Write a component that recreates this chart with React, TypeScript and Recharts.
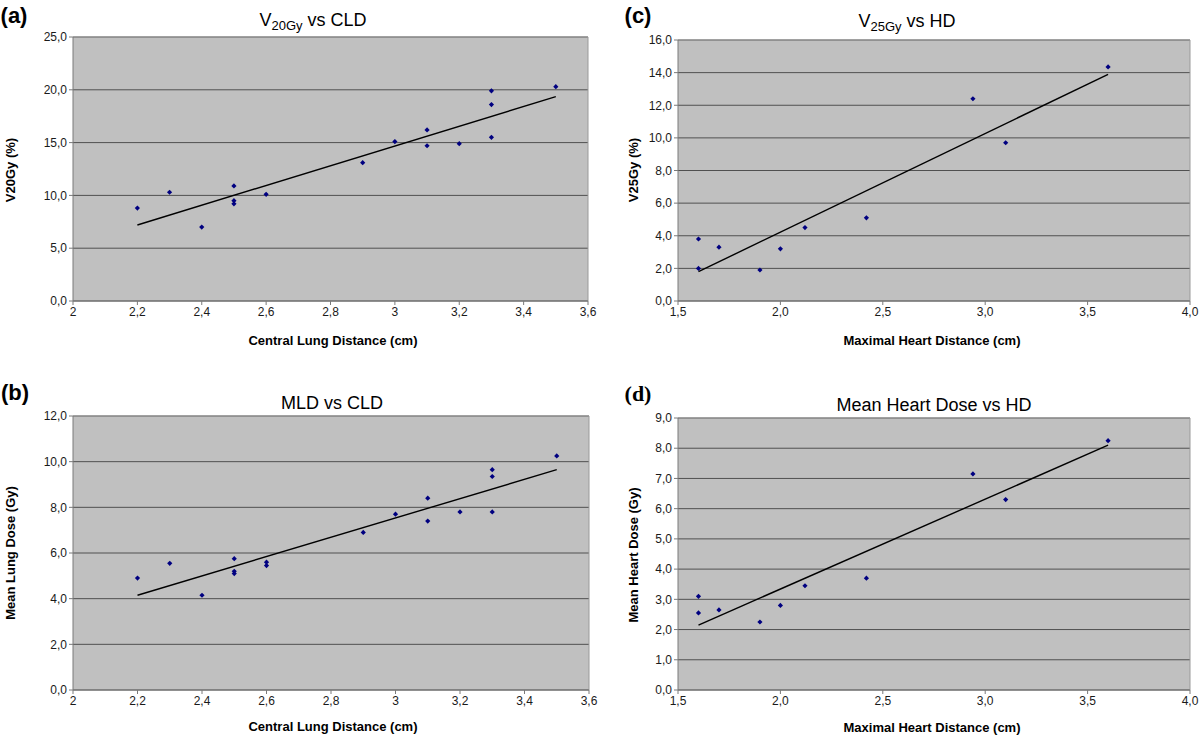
import React from "react";
import {
  ScatterChart,
  Scatter,
  XAxis,
  YAxis,
  CartesianGrid,
  ReferenceLine,
} from "recharts";

// ---------- data ----------
const cldA = [2.2, 2.3, 2.4, 2.5, 2.5, 2.5, 2.6, 2.9, 3.0, 3.1, 3.1, 3.2, 3.3, 3.3, 3.3, 3.5];
const v20 = [8.8, 10.3, 7.0, 10.9, 9.5, 9.2, 10.1, 13.1, 15.1, 16.2, 14.7, 14.9, 19.9, 18.6, 15.5, 20.3];
const trendAx = [2.2, 3.5];
const trendAy = [7.2, 19.35];

const cldB = [2.2, 2.3, 2.4, 2.5, 2.5, 2.5, 2.6, 2.6, 2.9, 3.0, 3.1, 3.1, 3.2, 3.3, 3.3, 3.3, 3.5];
const mld = [4.9, 5.55, 4.15, 5.75, 5.2, 5.1, 5.6, 5.45, 6.9, 7.7, 8.4, 7.4, 7.8, 9.65, 9.35, 7.8, 10.25];
const trendBx = [2.2, 3.5];
const trendBy = [4.15, 9.65];

const hdC = [1.6, 1.6, 1.7, 1.9, 2.0, 2.12, 2.42, 2.94, 3.1, 3.6];
const v25 = [3.8, 2.0, 3.3, 1.9, 3.2, 4.5, 5.1, 12.4, 9.7, 14.35];
const trendCx = [1.6, 3.6];
const trendCy = [1.8, 13.9];

const hdD = [1.6, 1.6, 1.7, 1.9, 2.0, 2.12, 2.42, 2.94, 3.1, 3.6];
const mhd = [3.1, 2.55, 2.65, 2.25, 2.8, 3.45, 3.7, 7.15, 6.3, 8.25];
const trendDx = [1.6, 3.6];
const trendDy = [2.15, 8.1];

// ---------- ticks ----------
const cldTicks = [2, 2.2, 2.4, 2.6, 2.8, 3, 3.2, 3.4, 3.6];
const hdTicks = [1.5, 2.0, 2.5, 3.0, 3.5, 4.0];
const v20Ticks = [0, 5, 10, 15, 20, 25];
const mldTicks = [0, 2, 4, 6, 8, 10, 12];
const v25Ticks = [0, 2, 4, 6, 8, 10, 12, 14, 16];
const mhdTicks = [0, 1, 2, 3, 4, 5, 6, 7, 8, 9];

const zip = (xs: number[], ys: number[]) => xs.map((x, i) => ({ x, y: ys[i] }));

const FONT = "'Liberation Sans', Arial, Helvetica, sans-serif";

const fmt1 = (v: number) => v.toFixed(1).replace(".", ",");
const fmtPlain = (v: number) => String(v).replace(".", ",");

const Diamond = (props: any) => {
  const { cx, cy } = props;
  if (cx == null || cy == null) return <g />;
  const r = 2.6;
  return (
    <polygon
      points={`${cx},${cy - r} ${cx + r},${cy} ${cx},${cy + r} ${cx - r},${cy}`}
      fill="#000080"
    />
  );
};

const Empty = () => <g />;

type PanelProps = {
  left: number;
  top: number;
  width: number;
  height: number;
  plot: { l: number; t: number; r: number; b: number };
  points: { x: number; y: number }[];
  trend: { x: number; y: number }[];
  xTicks: number[];
  yTicks: number[];
  xFmt: (v: number) => string;
};

const X_AXIS_H = 30;
const Y_AXIS_W = 40;

function Panel(p: PanelProps) {
  const margin = {
    left: p.plot.l - p.left - Y_AXIS_W,
    top: p.plot.t - p.top,
    right: p.left + p.width - p.plot.r,
    bottom: p.top + p.height - p.plot.b - X_AXIS_H,
  };
  const xMin = p.xTicks[0];
  const xMax = p.xTicks[p.xTicks.length - 1];
  const yMin = p.yTicks[0];
  const yMax = p.yTicks[p.yTicks.length - 1];
  const tickStyle = { fontSize: 12, fill: "#1a1a1a", fontFamily: FONT };
  return (
    <div style={{ position: "absolute", left: p.left, top: p.top }}>
      <ScatterChart width={p.width} height={p.height} margin={margin}>
        <CartesianGrid
          vertical={false}
          stroke="#505050"
          strokeWidth={1}
          fill="#c0c0c0"
          fillOpacity={1}
        />
        <XAxis
          type="number"
          dataKey="x"
          domain={[xMin, xMax]}
          ticks={p.xTicks}
          tickFormatter={p.xFmt}
          height={X_AXIS_H}
          tick={tickStyle}
          tickSize={4}
          tickMargin={2}
          stroke="#7a7a7a"
          allowDataOverflow
          interval={0}
        />
        <YAxis
          type="number"
          dataKey="y"
          domain={[yMin, yMax]}
          ticks={p.yTicks}
          tickFormatter={fmt1}
          width={Y_AXIS_W}
          tick={tickStyle}
          tickSize={4}
          tickMargin={2}
          stroke="#7a7a7a"
          allowDataOverflow
          interval={0}
        />
        <ReferenceLine y={yMax} stroke="#9a9a9a" strokeWidth={1} />
        <ReferenceLine x={xMax} stroke="#9a9a9a" strokeWidth={1} />
        <Scatter
          data={p.trend}
          shape={Empty}
          line={{ stroke: "#000", strokeWidth: 1.4 }}
          isAnimationActive={false}
        />
        <Scatter data={p.points} shape={Diamond} isAnimationActive={false} />
      </ScatterChart>
    </div>
  );
}

const abs = (x: number, y: number, extra: React.CSSProperties = {}): React.CSSProperties => ({
  position: "absolute",
  left: x,
  top: y,
  transform: "translate(-50%, -50%)",
  whiteSpace: "nowrap",
  lineHeight: 1,
  fontFamily: FONT,
  color: "#000",
  ...extra,
});

const titleStyle = { fontSize: 18 };
const subStyle: React.CSSProperties = { fontSize: 13, position: "relative", top: 4 };
const axisLabel = { fontSize: 13, fontWeight: 700 as const };
const panelLabel = { fontSize: 22, fontWeight: 700 as const };

export default function App() {
  return (
    <div
      style={{
        position: "absolute",
        left: 0,
        top: 0,
        width: 1200,
        height: 738,
        background: "#fff",
        overflow: "hidden",
      }}
    >
      <Panel
        left={0}
        top={0}
        width={600}
        height={360}
        plot={{ l: 73, t: 37, r: 588, b: 301 }}
        points={zip(cldA, v20)}
        trend={zip(trendAx, trendAy)}
        xTicks={cldTicks}
        yTicks={v20Ticks}
        xFmt={fmtPlain}
      />
      <Panel
        left={0}
        top={370}
        width={600}
        height={368}
        plot={{ l: 73, t: 416, r: 589, b: 690 }}
        points={zip(cldB, mld)}
        trend={zip(trendBx, trendBy)}
        xTicks={cldTicks}
        yTicks={mldTicks}
        xFmt={fmtPlain}
      />
      <Panel
        left={600}
        top={0}
        width={600}
        height={360}
        plot={{ l: 678, t: 40, r: 1190, b: 301 }}
        points={zip(hdC, v25)}
        trend={zip(trendCx, trendCy)}
        xTicks={hdTicks}
        yTicks={v25Ticks}
        xFmt={fmt1}
      />
      <Panel
        left={600}
        top={370}
        width={600}
        height={368}
        plot={{ l: 678, t: 418, r: 1190, b: 690 }}
        points={zip(hdD, mhd)}
        trend={zip(trendDx, trendDy)}
        xTicks={hdTicks}
        yTicks={mhdTicks}
        xFmt={fmt1}
      />

      {/* panel labels */}
      <div style={abs(14, 16, panelLabel)}>(a)</div>
      <div style={abs(15, 393, panelLabel)}>(b)</div>
      <div style={abs(638, 16, panelLabel)}>(c)</div>
      <div style={abs(638, 394, { ...panelLabel, fontFamily: "'Liberation Serif', 'Times New Roman', serif" })}>(d)</div>

      {/* titles */}
      <div style={abs(313, 20, titleStyle)}>
        V<span style={subStyle}>20Gy</span> vs CLD
      </div>
      <div style={abs(332, 403, titleStyle)}>MLD vs CLD</div>
      <div style={abs(907, 21, titleStyle)}>
        V<span style={subStyle}>25Gy</span> vs HD
      </div>
      <div style={abs(934, 405, titleStyle)}>Mean Heart Dose vs HD</div>

      {/* x labels */}
      <div style={abs(333, 340, axisLabel)}>Central Lung Distance (cm)</div>
      <div style={abs(333, 726, axisLabel)}>Central Lung Distance (cm)</div>
      <div style={abs(932, 340, axisLabel)}>Maximal Heart Distance (cm)</div>
      <div style={abs(932, 727, axisLabel)}>Maximal Heart Distance (cm)</div>

      {/* y labels */}
      <div style={abs(10, 170, { ...axisLabel, transform: "translate(-50%, -50%) rotate(-90deg)" })}>V20Gy (%)</div>
      <div style={abs(10, 553, { ...axisLabel, transform: "translate(-50%, -50%) rotate(-90deg)" })}>Mean Lung Dose (Gy)</div>
      <div style={abs(633, 170, { ...axisLabel, transform: "translate(-50%, -50%) rotate(-90deg)" })}>V25Gy (%)</div>
      <div style={abs(633, 555, { ...axisLabel, transform: "translate(-50%, -50%) rotate(-90deg)" })}>Mean Heart Dose (Gy)</div>
    </div>
  );
}
